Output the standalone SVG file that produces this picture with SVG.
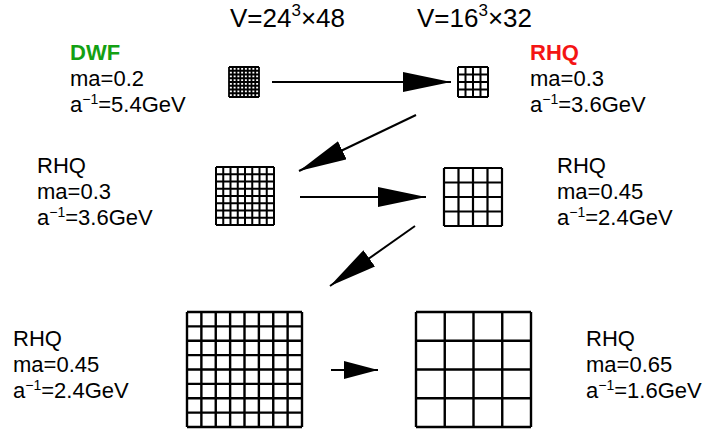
<svg xmlns="http://www.w3.org/2000/svg" width="703" height="433" viewBox="0 0 703 433">
<style>
text{font-family:"Liberation Sans",Arial,sans-serif;font-size:22px;fill:#000}
.big{font-size:26px}
.b{font-weight:bold}
.g{fill:#13a013}
.r{fill:#f41414}
.sup{font-size:14px}
.sup2{font-size:17px}
.grid{fill:none;stroke:#000}
.conn{stroke:#000;stroke-width:2;fill:none}
</style>
<defs>
<marker id="ah" markerUnits="userSpaceOnUse" markerWidth="50" markerHeight="22" refX="48" refY="10" orient="auto" viewBox="0 0 50 22"><path d="M0,0 L48,10 L0,20 z" fill="#000"/></marker>
<marker id="ahs" markerUnits="userSpaceOnUse" markerWidth="36" markerHeight="20" refX="34" refY="9" orient="auto" viewBox="0 0 36 20"><path d="M0,0 L34,9 L0,18 z" fill="#000"/></marker>
</defs>
<g id="volumes">
<text class="big" x="230" y="27">V=24<tspan class="sup2" dy="-11">3</tspan><tspan dy="11">×48</tspan></text>
<text class="big" x="417" y="27">V=16<tspan class="sup2" dy="-11">3</tspan><tspan dy="11">×32</tspan></text>
</g>
<g id="connectors">
<line class="conn" x1="272" y1="82" x2="451" y2="82" marker-end="url(#ah)"/>
<line class="conn" x1="416" y1="115" x2="299" y2="171" marker-end="url(#ah)"/>
<line class="conn" x1="300" y1="197" x2="426" y2="197" marker-end="url(#ah)"/>
<line class="conn" x1="415" y1="226" x2="330" y2="286" marker-end="url(#ah)"/>
<line class="conn" x1="331" y1="370" x2="378" y2="370" marker-end="url(#ahs)"/>
</g>
<g id="dwf">
<text class="b g" x="70" y="60">DWF</text>
<text x="70" y="86">ma=0.2</text>
<text x="70" y="112">a<tspan class="sup" dy="-8">−1</tspan><tspan dy="8">=5.4GeV</tspan></text>
<path class="grid" stroke-width="1.8" d="M229,67V97M232.75,67V97M236.5,67V97M240.25,67V97M244,67V97M247.75,67V97M251.5,67V97M255.25,67V97M259,67V97M229,67H259M229,70.75H259M229,74.5H259M229,78.25H259M229,82H259M229,85.75H259M229,89.5H259M229,93.25H259M229,97H259"/>
</g>
<g id="rhq1">
<text class="b r" x="530" y="60">RHQ</text>
<text x="530" y="86">ma=0.3</text>
<text x="530" y="112">a<tspan class="sup" dy="-8">−1</tspan><tspan dy="8">=3.6GeV</tspan></text>
<path class="grid" stroke-width="2" d="M458,67V97M465.5,67V97M473,67V97M480.5,67V97M488,67V97M458,67H488M458,74.5H488M458,82H488M458,89.5H488M458,97H488"/>
</g>
<g id="rhq2">
<text x="37" y="173">RHQ</text>
<text x="37" y="199">ma=0.3</text>
<text x="37" y="225">a<tspan class="sup" dy="-8">−1</tspan><tspan dy="8">=3.6GeV</tspan></text>
<path class="grid" stroke-width="2" d="M216,167V225M223.25,167V225M230.5,167V225M237.75,167V225M245,167V225M252.25,167V225M259.5,167V225M266.75,167V225M274,167V225M216,167H274M216,174.25H274M216,181.5H274M216,188.75H274M216,196H274M216,203.25H274M216,210.5H274M216,217.75H274M216,225H274"/>
</g>
<g id="rhq3">
<text x="557" y="173">RHQ</text>
<text x="557" y="199">ma=0.45</text>
<text x="557" y="225">a<tspan class="sup" dy="-8">−1</tspan><tspan dy="8">=2.4GeV</tspan></text>
<path class="grid" stroke-width="2.2" d="M444,168V226M458.5,168V226M473,168V226M487.5,168V226M502,168V226M444,168H502M444,182.5H502M444,197H502M444,211.5H502M444,226H502"/>
</g>
<g id="rhq4">
<text x="13" y="346">RHQ</text>
<text x="13" y="372">ma=0.45</text>
<text x="13" y="398">a<tspan class="sup" dy="-8">−1</tspan><tspan dy="8">=2.4GeV</tspan></text>
<path class="grid" stroke-width="2.4" d="M187,312V427M201.375,312V427M215.75,312V427M230.125,312V427M244.5,312V427M258.875,312V427M273.25,312V427M287.625,312V427M302,312V427M187,312H302M187,326.375H302M187,340.75H302M187,355.125H302M187,369.5H302M187,383.875H302M187,398.25H302M187,412.625H302M187,427H302"/>
</g>
<g id="rhq5">
<text x="586" y="346">RHQ</text>
<text x="586" y="372">ma=0.65</text>
<text x="586" y="398">a<tspan class="sup" dy="-8">−1</tspan><tspan dy="8">=1.6GeV</tspan></text>
<path class="grid" stroke-width="2.4" d="M416,312V427M444.75,312V427M473.5,312V427M502.25,312V427M531,312V427M416,312H531M416,340.75H531M416,369.5H531M416,398.25H531M416,427H531"/>
</g>
</svg>
